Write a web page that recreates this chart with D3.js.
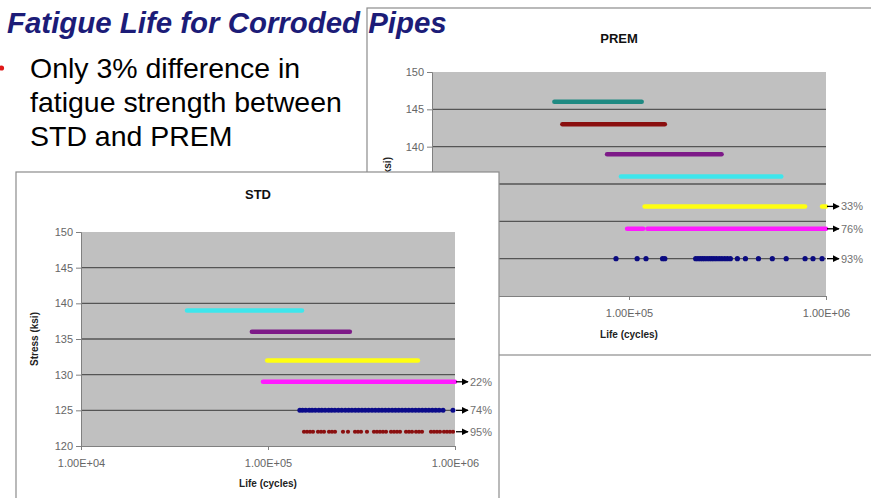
<!DOCTYPE html>
<html>
<head>
<meta charset="utf-8">
<script src="https://cdn.jsdelivr.net/npm/d3@7"></script>
<style>
  html, body { margin: 0; padding: 0; background: #ffffff; }
  svg { display: block; }
  text { font-family: "Liberation Sans", Arial, Helvetica, sans-serif; }
</style>
</head>
<body>
<svg id="slide" width="871" height="498"></svg>
<script>
// ---- shared axis values ----
const lifeTicks = [1e4, 1e5, 1e6];
const stressTicks = [120, 125, 130, 135, 140, 145, 150];

// ---- PREM test results (life in cycles) ----
const premLevels = [146, 143, 139, 136, 132, 129];
const premRanges = [
  [[41800, 116000]],
  [[45900, 152000]],
  [[77400, 295000]],
  [[91000, 593000]],
  [[120000, 783000], [955000, 1000000]],
  [[97800, 118000], [124000, 1000000]]
];
const premDotStress = 125;
const premDots = [85900, 110000, 122000, 148000, 152000, 218000, 224000, 230000, 236000,
  242000, 249000, 256000, 263000, 270000, 278000, 287000, 296000, 306000, 316000, 327000,
  355000, 390000, 454000, 534000, 628000, 783000, 859000, 955000];
const premRunoutStress = [132, 129, 125];
const premRunoutLabels = ["33%", "76%", "93%"];

// ---- STD test results (life in cycles) ----
const stdLevels = [139, 136, 132, 129];
const stdRanges = [
  [[36900, 152000]],
  [[82000, 274000]],
  [[99000, 634000]],
  [[94000, 1000000]]
];
const stdDotsAStress = 125;
const stdDotsA = [148000, 153000, 159000, 166000, 172000, 179000, 187000, 194000, 202000,
  211000, 219000, 228000, 238000, 248000, 259000, 270000, 281000, 293000, 305000, 318000,
  331000, 345000, 360000, 375000, 391000, 407000, 424000, 442000, 461000, 480000, 500000,
  521000, 543000, 566000, 590000, 615000, 641000, 668000, 696000, 725000, 756000, 788000,
  822000, 863000, 975000];
const stdDotsBStress = 122;
const stdDotsB = [155800, 161700, 167800, 174000, 185100, 192100, 199300, 212000, 219900,
  228200, 251800, 267800, 292000, 302900, 314300, 338300, 368700, 382600, 397000, 412000,
  427600, 454800, 471900, 489700, 508000, 547000, 567500, 589000, 618700, 642000, 666000,
  744000, 772000, 801000, 831000, 873000, 906000, 940000, 976000];
const stdRunoutStress = [129, 125, 122];
const stdRunoutLabels = ["22%", "74%", "95%"];

// ---- styling ----
const premColors = ["#1f8a82", "#8a0f0f", "#7d1a88", "#3ee6ec", "#ffff10", "#ff1aff"];
const stdColors = ["#3ee6ec", "#7d1a88", "#ffff10", "#ff1aff"];

const svg = d3.select("#slide");
const defs = svg.append("defs");
defs.append("marker")
  .attr("id", "arrowHead")
  .attr("viewBox", "0 0 10 10")
  .attr("refX", 9).attr("refY", 5)
  .attr("markerWidth", 7).attr("markerHeight", 7)
  .attr("markerUnits", "userSpaceOnUse")
  .attr("orient", "auto")
  .append("path").attr("d", "M0,0 L10,5 L0,10 Z").attr("fill", "#000");

const fmtLife = d => d.toExponential(2).toUpperCase().replace(/E\+(\d)$/, "E+0$1");

function drawChart(cfg) {
  const g = svg.append("g");
  // chart frame
  g.append("rect")
    .attr("x", cfg.box[0]).attr("y", cfg.box[1])
    .attr("width", cfg.box[2] - cfg.box[0]).attr("height", cfg.box[3] - cfg.box[1])
    .attr("fill", "#fff").attr("stroke", "#8c8c8c").attr("stroke-width", 1.2);

  const [px0, py0, px1, py1] = cfg.plot;
  const x = d3.scaleLog().domain([1e4, 1e6]).range([px0, px1]);
  const y = d3.scaleLinear().domain([120, 150]).range([py1, py0]);

  // plot area
  g.append("rect").attr("x", px0).attr("y", py0)
    .attr("width", px1 - px0).attr("height", py1 - py0)
    .attr("fill", "#c0c0c0");

  // gridlines
  g.append("g").selectAll("line")
    .data(stressTicks.filter(t => t > 120 && t < 150))
    .join("line")
    .attr("x1", px0).attr("x2", px1)
    .attr("y1", d => y(d)).attr("y2", d => y(d))
    .attr("stroke", "#555").attr("stroke-width", 1.4);

  // y axis
  const ya = g.append("g").attr("transform", `translate(${px0},0)`)
    .call(d3.axisLeft(y).tickValues(stressTicks).tickSize(5).tickPadding(3).tickFormat(d3.format("d")));
  ya.select(".domain").attr("stroke", "#808080");
  ya.selectAll(".tick line").attr("stroke", "#808080");
  ya.selectAll("text").attr("fill", "#666").attr("font-size", 11)
    .style("font-family", '"Liberation Sans", Arial, sans-serif');

  // x axis
  const xa = g.append("g").attr("transform", `translate(0,${py1})`)
    .call(d3.axisBottom(x).tickValues(lifeTicks).tickSize(4).tickPadding(9).tickFormat(fmtLife));
  xa.select(".domain").attr("stroke", "#808080");
  xa.selectAll(".tick line").attr("stroke", "#808080");
  xa.selectAll("text").attr("fill", "#666").attr("font-size", 11)
    .style("font-family", '"Liberation Sans", Arial, sans-serif');

  // titles
  g.append("text").attr("x", (px0 + px1) / 2 - 10).attr("y", cfg.titleY)
    .attr("text-anchor", "middle").attr("font-weight", "bold").attr("font-size", 13)
    .attr("fill", "#111").text(cfg.title);
  g.append("text").attr("x", x(1e5)).attr("y", cfg.xTitleY)
    .attr("text-anchor", "middle").attr("font-weight", "bold").attr("font-size", 10)
    .attr("fill", "#222").text("Life (cycles)");
  g.append("text")
    .attr("transform", `translate(${cfg.yTitleX},${(py0 + py1) / 2}) rotate(-90)`)
    .attr("text-anchor", "middle").attr("font-weight", "bold").attr("font-size", 10)
    .attr("fill", "#222").text("Stress (ksi)");

  // horizontal life ranges
  cfg.levels.forEach((s, i) => {
    g.append("g").selectAll("line").data(cfg.ranges[i]).join("line")
      .attr("x1", d => x(d[0])).attr("x2", d => x(d[1]))
      .attr("y1", y(s)).attr("y2", y(s))
      .attr("stroke", cfg.colors[i]).attr("stroke-width", 4.5)
      .attr("stroke-linecap", "round");
  });

  // individual specimen points, optionally joined into a band
  cfg.dots.forEach(ds => {
    if (ds.band) {
      g.append("line")
        .attr("x1", x(ds.values[0])).attr("x2", x(ds.values[ds.band]))
        .attr("y1", y(ds.stress)).attr("y2", y(ds.stress))
        .attr("stroke", ds.color).attr("stroke-width", 3.4);
    }
    g.append("g").selectAll("circle").data(ds.values).join("circle")
      .attr("cx", d => x(d)).attr("cy", y(ds.stress))
      .attr("r", ds.r).attr("fill", ds.color);
  });

  // run-out arrows and percentages
  cfg.runoutStress.forEach((s, i) => {
    g.append("line")
      .attr("x1", x(1e6) + 1).attr("x2", x(1e6) + 13)
      .attr("y1", y(s)).attr("y2", y(s))
      .attr("stroke", "#000").attr("stroke-width", 1.3)
      .attr("marker-end", "url(#arrowHead)");
    g.append("text").attr("x", x(1e6) + 15).attr("y", y(s) + 4)
      .attr("font-size", 11).attr("fill", "#707070").text(cfg.runoutLabels[i]);
  });
}

drawChart({
  title: "PREM", box: [367, 8, 880, 355], plot: [432, 72, 826, 296],
  titleY: 43, xTitleY: 338, yTitleX: 391,
  levels: premLevels, ranges: premRanges, colors: premColors,
  dots: [{ stress: premDotStress, values: premDots, r: 2.6, color: "#0a0a80" }],
  runoutStress: premRunoutStress, runoutLabels: premRunoutLabels
});

// slide title, drawn over the PREM frame
const title = svg.append("text").attr("x", 7).attr("y", 33)
  .attr("font-size", 28).attr("font-weight", "bold").attr("font-style", "italic")
  .attr("fill", "#1c1c78").text("Fatigue Life for Corroded Pipes");
(function fit() {
  const w = title.node().getComputedTextLength();
  title.attr("font-size", 28 * 440 / w);
})();

// bullet
svg.append("circle").attr("cx", 1.5).attr("cy", 68).attr("r", 2.6).attr("fill", "#e01818");
const bulletLines = ["Only 3% difference in", "fatigue strength between", "STD and PREM"];
const bulletY = [78, 112, 146];
const bl = svg.append("g").selectAll("text").data(bulletLines).join("text")
  .attr("x", 30).attr("y", (d, i) => bulletY[i])
  .attr("font-size", 26).attr("fill", "#000").text(d => d);
(function fitBullet() {
  const w = bl.nodes()[1].getComputedTextLength();
  bl.attr("font-size", 26 * 312 / w);
})();

drawChart({
  title: "STD", box: [16, 172, 499, 520], plot: [81, 232, 455, 446],
  titleY: 199, xTitleY: 487, yTitleX: 38,
  levels: stdLevels, ranges: stdRanges, colors: stdColors,
  dots: [
    { stress: stdDotsAStress, values: stdDotsA, r: 2.5, color: "#0a0a8a", band: stdDotsA.length - 2 },
    { stress: stdDotsBStress, values: stdDotsB, r: 2.1, color: "#8a0f0f" }
  ],
  runoutStress: stdRunoutStress, runoutLabels: stdRunoutLabels
});
</script>
</body>
</html>
